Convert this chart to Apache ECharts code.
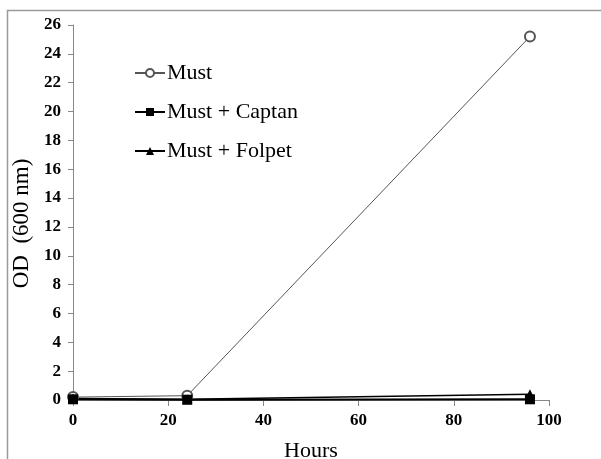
<!DOCTYPE html>
<html>
<head>
<meta charset="utf-8">
<title>OD chart</title>
<script src="https://cdn.jsdelivr.net/npm/echarts@6/dist/echarts.min.js"></script>
<style>
  html, body { margin: 0; padding: 0; background: #fff; }
  #main { width: 601px; height: 459px; }
</style>
</head>
<body>
<div id="main"></div>
<script>
// data
var hours = [0, 24, 96];
var must = [0.2, 0.3, 25.2];
var mustCaptan = [0.05, 0.02, 0.05];
var mustFolpet = [0.1, 0.05, 0.4];
var seriesNames = ['Must', 'Must + Captan', 'Must + Folpet'];

function pairs(vals) {
    var out = [];
    for (var i = 0; i < hours.length; i++) out.push([hours[i], vals[i]]);
    return out;
}

var serif = '"Liberation Serif", "DejaVu Serif", serif';
var chart = echarts.init(document.getElementById('main'));
var option = {
    animation: false,
    textStyle: { fontFamily: serif },
    graphic: [{
        type: 'rect',
        shape: { x: 7.5, y: 10.5, width: 700, height: 600 },
        style: { fill: 'none', stroke: '#9a9a9a', lineWidth: 1.5 },
        silent: true
    }],
    grid: { left: 73, right: 52, top: 25, bottom: 59, outerBoundsMode: 'none', containLabel: false },
    legend: {
        orient: 'vertical',
        left: 129,
        top: 57,
        itemWidth: 30,
        itemHeight: 10,
        itemGap: 17,
        textStyle: { fontFamily: serif, fontSize: 22, color: '#000', padding: [0, 0, 0, -3] },
        data: seriesNames
    },
    xAxis: {
        type: 'value',
        min: 0, max: 100, interval: 20,
        name: 'Hours',
        nameLocation: 'middle',
        nameGap: 40,
        nameTextStyle: { fontFamily: serif, fontSize: 22, color: '#000' },
        axisLine: { lineStyle: { color: '#888', width: 1 } },
        axisTick: { show: true, length: 6, lineStyle: { color: '#888' } },
        axisLabel: { fontFamily: serif, fontSize: 17, fontWeight: 'bold', color: '#000', margin: 12 },
        splitLine: { show: false }
    },
    yAxis: {
        type: 'value',
        min: 0, max: 26, interval: 2,
        name: 'OD  (600 nm)',
        nameLocation: 'middle',
        nameGap: 37,
        nameTextStyle: { fontFamily: serif, fontSize: 23, color: '#000', padding: [0, 22, 0, 0] },
        axisLine: { show: true, lineStyle: { color: '#888', width: 1 } },
        axisTick: { show: true, length: 5, lineStyle: { color: '#888' } },
        axisLabel: { fontFamily: serif, fontSize: 17, fontWeight: 'bold', color: '#000', margin: 12 },
        splitLine: { show: false }
    },
    series: [
        {
            name: seriesNames[0], type: 'line', data: pairs(must),
            symbol: 'emptyCircle', symbolSize: 10,
            lineStyle: { color: '#555', width: 1 },
            itemStyle: { color: '#555', borderColor: '#555', borderWidth: 1 }
        },
        {
            name: seriesNames[1], type: 'line', data: pairs(mustCaptan),
            symbol: 'rect', symbolSize: 10,
            lineStyle: { color: '#000', width: 2 },
            itemStyle: { color: '#000' }
        },
        {
            name: seriesNames[2], type: 'line', data: pairs(mustFolpet),
            symbol: 'triangle', symbolSize: 10,
            lineStyle: { color: '#000', width: 1.5 },
            itemStyle: { color: '#000' }
        }
    ]
};
chart.setOption(option);
</script>
</body>
</html>
